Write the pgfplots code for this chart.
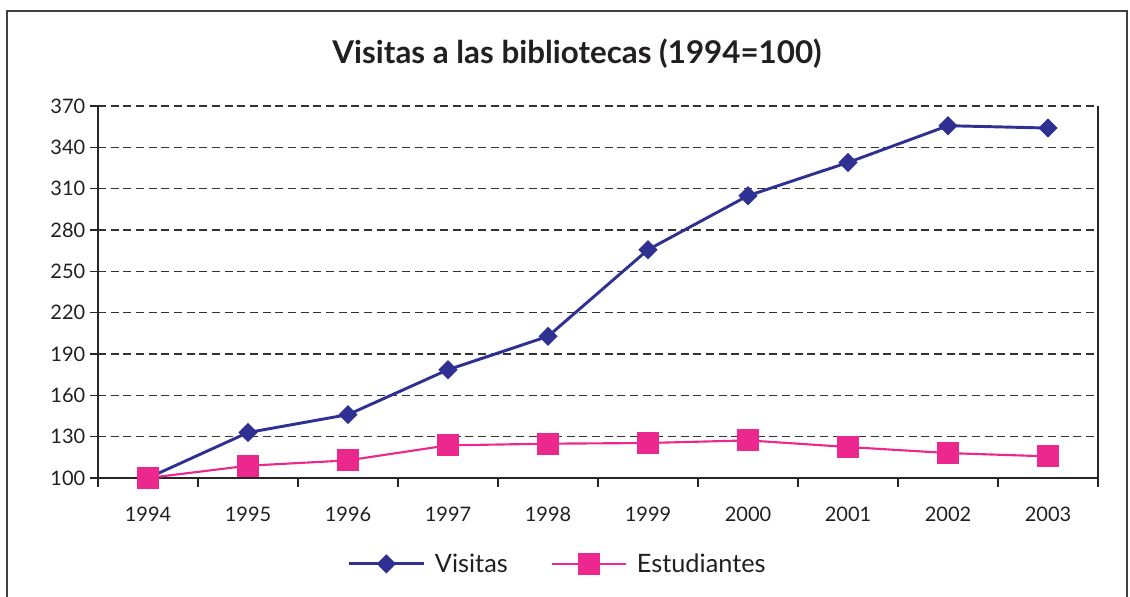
\documentclass[border=0pt]{standalone}
\usepackage{pgfplots}
\pgfplotsset{compat=1.18}
\usepackage{fontspec}
\setmainfont{Lato}
\definecolor{navy}{HTML}{2E3192}
\definecolor{pinkc}{HTML}{EC288F}
\definecolor{txt}{HTML}{231F20}
\begin{document}
\begin{tikzpicture}
\useasboundingbox (-73.5pt,-88.5pt) rectangle (774pt,358.5pt);
\draw[black!75, line width=1.1pt] (-68.25pt,-92pt) -- (-68.25pt,350.25pt) -- (771.75pt,350.25pt) -- (771.75pt,-92pt);
\node[font=\bfseries\fontsize{23.5}{28}\selectfont, text=txt] at (359.25pt,318.5pt) {Visitas a las bibliotecas (1994=100)};
\begin{axis}[
  at={(0pt,0pt)}, anchor=south west,
  scale only axis, width=750pt, height=279pt,
  xmin=-0.5, xmax=9.5, ymin=100, ymax=370,
  axis x line=bottom, axis y line=box,
  x axis line style={-}, y axis line style={-},
  axis line style={line width=1.8pt, black!85},
  xtick={0,...,9},
  xticklabels={1994,1995,1996,1997,1998,1999,2000,2001,2002,2003},
  minor xtick={-0.5,0.5,...,9.5},
  ytick={100,130,...,370},
  ytick pos=left,
  tick align=outside,
  major tick length=6pt,
  minor tick length=7pt,
  x tick style={draw=none},
  minor x tick style={draw=black!85, line width=1.1pt},
  y tick style={draw=black!85, line width=1.1pt},
  ymajorgrids,
  major grid style={dash pattern=on 6pt off 3.5pt, black!80, line width=1pt},
  tick label style={font=\fontsize{15}{18}\selectfont, text=txt},
  /pgf/number format/assume math mode=true,
  xticklabel style={yshift=-12pt},
  legend columns=2,
  legend style={at={(0.46,-0.231)}, anchor=center, draw=none, fill=none,
    font=\fontsize{19}{22}\selectfont, text=txt,
    /tikz/every even column/.append style={column sep=30pt}},
  legend image code/.code={\draw[mark repeat=2,mark phase=2] plot coordinates {(0cm,0cm)(0.98cm,0cm)(1.96cm,0cm)}; \path (2.15cm,0cm);},
  clip=false,
]
\addplot[navy, line width=2.2pt, mark=square*, mark size=4pt, mark options={rotate=45, solid, fill=navy}] coordinates {
(0,100) (1,133) (2,146) (3,178.6) (4,202.8) (5,265.7) (6,304.9) (7,329) (8,355.7) (9,354)};
\addlegendentry{Visitas}
\addplot[pinkc, line width=1.6pt, mark=square*, mark size=7.5pt, mark options={solid, fill=pinkc}] coordinates {
(0,100) (1,108.9) (2,112.8) (3,123.7) (4,124.9) (5,125.4) (6,127.3) (7,122.5) (8,118.1) (9,115.7)};
\addlegendentry{Estudiantes}
\end{axis}
\end{tikzpicture}
\end{document}
